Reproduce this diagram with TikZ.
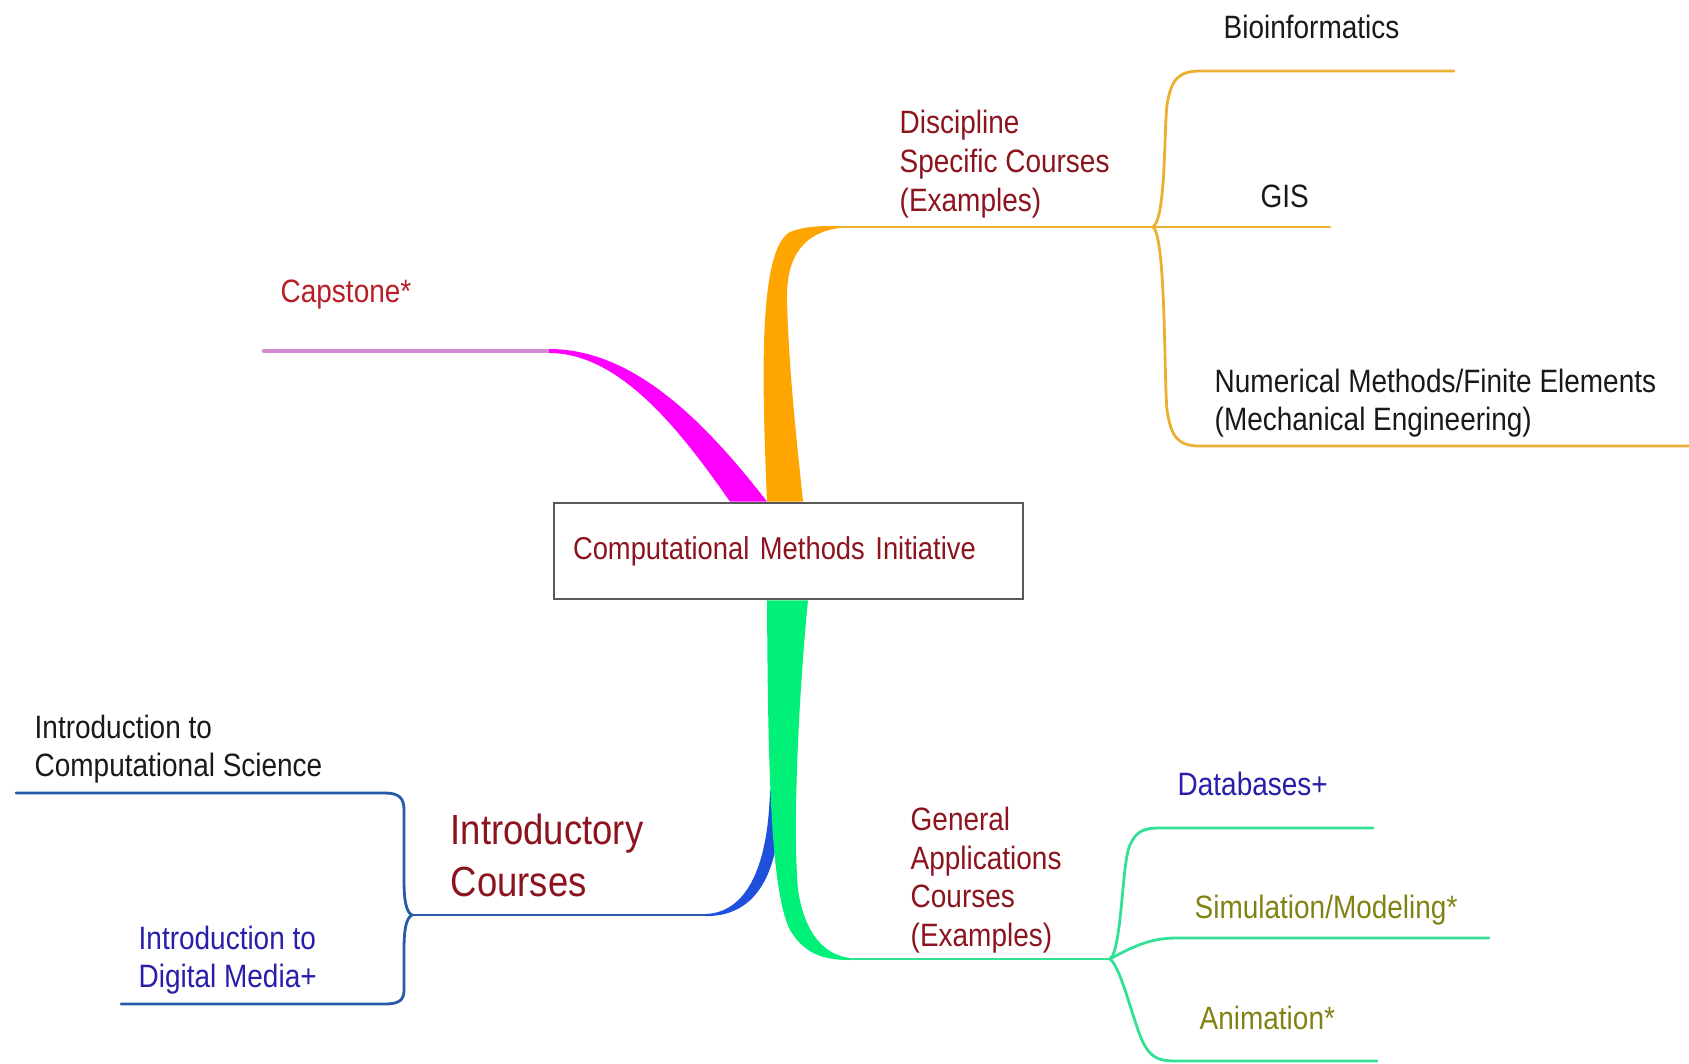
\documentclass[tikz,border=0pt]{standalone}
\usepackage{fontspec}
\setmainfont{Liberation Sans}[FakeStretch=0.865]
\usepackage{tikz}
\usetikzlibrary{positioning,calc}
\usepackage{xcolor}

\definecolor{topicred}{RGB}{140,20,30}
\definecolor{capred}{RGB}{185,30,40}
\definecolor{leafblue}{RGB}{40,30,170}
\definecolor{leafolive}{RGB}{130,130,20}
\definecolor{capfill}{RGB}{255,0,255}
\definecolor{capline}{RGB}{210,140,210}
\definecolor{orangefill}{RGB}{255,165,0}
\definecolor{orangeline}{RGB}{235,175,50}
\definecolor{greenfill}{RGB}{0,240,120}
\definecolor{greenline}{RGB}{50,225,150}
\definecolor{bluefill}{RGB}{30,80,220}
\definecolor{blueline}{RGB}{40,90,170}

\begin{document}
\begin{tikzpicture}[x=0.1mm, y=-0.1mm,
        hub/.style={draw=black!65, line width=0.8pt, minimum width=46.9mm, minimum height=9.6mm, inner xsep=1.9mm, text width=43.1mm, align=left, text=topicred, font=\fontsize{9}{11}\selectfont},
        topic/.style={anchor=west, inner sep=0pt, align=left, text=topicred, font=\fontsize{9.2}{11}\selectfont},
        leaf/.style={anchor=west, inner sep=0pt, align=left, text=black!90, font=\fontsize{9.2}{11}\selectfont}
    ]
    \useasboundingbox (0,0) rectangle (1689,1063);

    %styles
    \tikzstyle{twig}=[line width=0.8pt, line cap=round]

    %nodes
    \node[hub] (cmi) at (788.5,551) {Computational Methods Initiative};
    \node[topic] (disc) at (899,164) {Discipline\\Specific Courses\\(Examples)};
    \node[topic] (gen) at (910,880) {General\\Applications\\Courses\\(Examples)};
    \node[topic, font=\fontsize{12}{14.8}\selectfont] (intro) at (450,855) {Introductory\\Courses};
    \node[topic, text=capred] (cap) at (280,295) {Capstone*};
    \node[leaf] (bio) at (1223,27) {Bioinformatics};
    \node[leaf] (gis) at (1260,196) {GIS};
    \node[leaf] (num) at (1214,403) {Numerical Methods/Finite Elements\\(Mechanical Engineering)};
    \node[leaf, text=leafblue] (db) at (1177,784) {Databases+};
    \node[leaf, text=leafolive] (sim) at (1194,910) {Simulation/Modeling*};
    \node[leaf, text=leafolive] (anim) at (1199,1018) {Animation*};
    \node[leaf] (cs) at (34,749) {Introduction to\\Computational Science};
    \node[leaf, text=leafblue] (dm) at (138,960) {Introduction to\\Digital Media+};

    %junctions
    \coordinate (capJ) at (549,351);
    \coordinate (capE) at (264,351);
    \coordinate (discS) at (840,227);
    \coordinate (discJ) at (1153,227);
    \coordinate (gisE) at (1330,227);
    \coordinate (bioE) at (1454,71);
    \coordinate (numE) at (1689,446);
    \coordinate (genS) at (850,959);
    \coordinate (genJ) at (1110,959);
    \coordinate (dbE) at (1373,828);
    \coordinate (simE) at (1489,938);
    \coordinate (animE) at (1377,1061);
    \coordinate (introS) at (705,915);
    \coordinate (introJ) at (412,915);
    \coordinate (csE) at (16,793);
    \coordinate (dmE) at (121,1004);

    %capstone
    \draw[twig, capline, line width=1.3pt] (capJ) -- (capE);
    \fill[capfill] ($(cmi.north)+(-58.5,0)$) .. controls (680,430) and (620,353) .. ($(capJ)+(0,2)$)
        -- ($(capJ)+(0,-2)$) .. controls (630,349) and (700,415) .. ($(cmi.north)+(-21.5,0)$) -- cycle;

    %discipline
    \fill[orangefill] ($(cmi.north)+(-21.5,0)$) .. controls (762,380) and (758,250) .. (790,232)
        .. controls (805,226) and (820,226) .. ($(discS)+(0,-1)$) -- ($(discS)+(0,1)$)
        .. controls (805,232) and (786,255) .. (787,300) .. controls (789,380) and (800,470) .. ($(cmi.north)+(14.5,0)$) -- cycle;
    \draw[twig, orangeline] (discS) -- (discJ) -- (gisE);
    \draw[twig, orangeline] (discJ) .. controls (1166,218) and (1164,130) .. (1167,105)
        .. controls (1171,80) and (1178,71) .. (1200,71) -- (bioE);
    \draw[twig, orangeline] (discJ) .. controls (1166,236) and (1164,380) .. (1167,410)
        .. controls (1171,437) and (1178,446) .. (1200,446) -- (numE);

    %introductory
    \fill[bluefill] (770,790) .. controls (768,870) and (745,913) .. ($(introS)+(0,-1)$)
        -- ($(introS)+(0,1)$) .. controls (752,917) and (780,880) .. (780,800) -- cycle;
    \draw[twig, blueline] (introS) -- (introJ);
    \draw[twig, blueline] (introJ) .. controls (406,912) and (404,900) .. (404,880) -- (404,810)
        .. controls (404,798) and (399,793) .. (385,793) -- (csE);
    \draw[twig, blueline] (introJ) .. controls (406,918) and (404,930) .. (404,950) -- (404,990)
        .. controls (404,1000) and (399,1004) .. (385,1004) -- (dmE);

    %general
    \fill[greenfill] ($(cmi.south)+(-21.5,0)$) .. controls (768,760) and (770,890) .. (790,930)
        .. controls (805,955) and (825,960) .. ($(genS)+(0,1)$) -- ($(genS)+(0,-1)$)
        .. controls (825,955) and (805,935) .. (798,890) .. controls (792,820) and (800,680) .. ($(cmi.south)+(19.5,0)$) -- cycle;
    \draw[twig, greenline] (genS) -- (genJ);
    \draw[twig, greenline] (genJ) .. controls (1122,950) and (1122,860) .. (1130,845)
        .. controls (1136,832) and (1142,828) .. (1160,828) -- (dbE);
    \draw[twig, greenline] (genJ) .. controls (1130,948) and (1150,938) .. (1175,938) -- (simE);
    \draw[twig, greenline] (genJ) .. controls (1122,968) and (1135,1030) .. (1145,1046)
        .. controls (1152,1058) and (1160,1061) .. (1175,1061) -- (animE);

\end{tikzpicture}
\end{document}
